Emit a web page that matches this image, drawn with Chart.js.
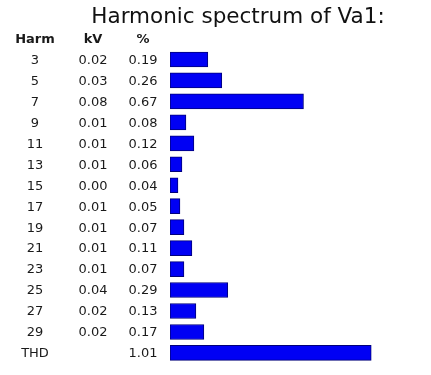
<!DOCTYPE html>
<html>
<head>
<meta charset="utf-8">
<script src="https://cdn.jsdelivr.net/npm/chart.js@4/dist/chart.umd.min.js"></script>
<style>
  html, body { margin: 0; padding: 0; background: #fff; }
  #wrap { width: 431px; height: 375px; }
</style>
</head>
<body>
<div id="wrap"><canvas id="chart"></canvas></div>
<script>
// --- Data ---
const harmonics = ['3', '5', '7', '9', '11', '13', '15', '17', '19', '21', '23', '25', '27', '29', 'THD'];
const kvValues = ['0.02', '0.03', '0.08', '0.01', '0.01', '0.01', '0.00', '0.01', '0.01', '0.01', '0.01', '0.04', '0.02', '0.02', ''];
const percentValues = [0.19, 0.26, 0.67, 0.08, 0.12, 0.06, 0.04, 0.05, 0.07, 0.11, 0.07, 0.29, 0.13, 0.17, 1.01];
const columnHeaders = ['Harm', 'kV', '%'];

const FONT = "'DejaVu Sans', Verdana, sans-serif";
const colX = [35, 93, 143];

// draws the Harm / kV / % table next to the bars
const tablePlugin = {
    id: 'tableColumns',
    afterDraw(chart) {
        const ctx = chart.ctx;
        const yScale = chart.scales.y;
        ctx.save();
        ctx.textAlign = 'center';
        ctx.textBaseline = 'middle';
        ctx.fillStyle = '#1a1a1a';
        ctx.font = 'bold 13px ' + FONT;
        const headerY = chart.chartArea.top - 9.5;
        columnHeaders.forEach((h, i) => ctx.fillText(h, colX[i], headerY));
        ctx.font = '13px ' + FONT;
        harmonics.forEach((h, i) => {
            const y = yScale.getPixelForValue(i) + 1;
            ctx.fillText(h, colX[0], y);
            ctx.fillText(kvValues[i], colX[1], y);
            ctx.fillText(percentValues[i].toFixed(2), colX[2], y);
        });
        ctx.restore();
    }
};

const ctx = document.getElementById('chart').getContext('2d');
new Chart(ctx, {
    type: 'bar',
    data: {
        labels: harmonics,
        datasets: [{
            data: percentValues,
            backgroundColor: '#0000f4',
            borderColor: '#00007a',
            borderWidth: 1,
            borderSkipped: false,
            barThickness: 15
        }]
    },
    options: {
        indexAxis: 'y',
        responsive: true,
        maintainAspectRatio: false,
        animation: false,
        layout: { padding: { left: 45, right: 0, top: 0, bottom: 11.6 } },
        plugins: {
            legend: { display: false },
            tooltip: { enabled: false },
            title: {
                display: true,
                text: 'Harmonic spectrum of Va1:',
                color: '#111',
                font: { family: FONT, size: 21.5, weight: 'normal' },
                padding: { top: 4.5, bottom: 18.7 }
            }
        },
        scales: {
            x: { display: false, min: 0, max: 1.31 },
            y: {
                display: true,
                ticks: { display: false },
                grid: { display: false },
                border: { display: false },
                afterFit(scale) { scale.width = 125; }
            }
        }
    },
    plugins: [tablePlugin]
});
</script>
</body>
</html>
